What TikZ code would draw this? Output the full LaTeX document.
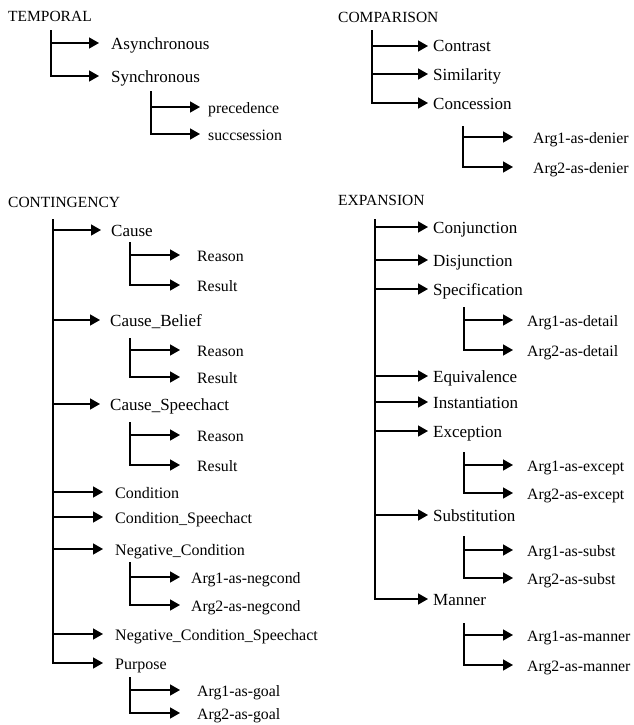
\documentclass[tikz,border=0pt]{standalone}
\usepackage{fontspec}
\setmainfont{Liberation Serif}
\usetikzlibrary{arrows.meta}

\tikzset{
  lbl/.style={anchor=west, inner sep=0pt, text height=13pt, text depth=1pt,
    font=\fontsize{17}{20}\selectfont},
  sublbl/.style={lbl, font=\fontsize{15.8}{19}\selectfont},
  head/.style={lbl, font=\fontsize{15.5}{18}\selectfont},
  trunk/.style={line width=1.4pt, line cap=rect},
  arr/.style={line width=1.4pt, -{Triangle[length=10pt,width=11pt]}},
}

\begin{document}
\begin{tikzpicture}[x=1pt,y=-1pt]
        \useasboundingbox (0,0) rectangle (633,725);

        % TEMPORAL
        \node[head] (temp) at (8,16) {TEMPORAL};
        \coordinate (tT) at (51,31);
        \foreach \nm/\y/\txt in {asyn/43/Asynchronous, sync/76/Synchronous}
        {   \node[lbl] (\nm) at (111,\y) {\txt};
            \draw[arr] (tT |- \nm) -- ([xshift=-12pt]\nm.west);
        }
        \draw[trunk] (tT) -- (tT |- sync);
        \coordinate (sync0) at (151,92);
        \node[sublbl] (sync1) at (208,107) {precedence};
        \node[sublbl] (sync2) at (208,134) {succsession};
        \draw[arr] (sync0 |- sync1) -- ([xshift=-8pt]sync1.west);
        \draw[arr] (sync0 |- sync2) -- ([xshift=-8pt]sync2.west);
        \draw[trunk] (sync0) -- (sync0 |- sync2);

        % COMPARISON
        \node[head] (comp) at (338,17) {COMPARISON};
        \coordinate (tP) at (372,31);
        \foreach \nm/\y/\txt in {contr/46/Contrast, simil/74/Similarity, conc/103/Concession}
        {   \node[lbl] (\nm) at (433,\y) {\txt};
            \draw[arr] (tP |- \nm) -- ([xshift=-5pt]\nm.west);
        }
        \draw[trunk] (tP) -- (tP |- conc);
        \coordinate (conc0) at (463,127);
        \node[sublbl] (conc1) at (533,137) {Arg1-as-denier};
        \node[sublbl] (conc2) at (533,167) {Arg2-as-denier};
        \draw[arr] (conc0 |- conc1) -- ([xshift=-20pt]conc1.west);
        \draw[arr] (conc0 |- conc2) -- ([xshift=-20pt]conc2.west);
        \draw[trunk] (conc0) -- (conc0 |- conc2);

        % CONTINGENCY
        \node[head] (cont) at (8,201) {CONTINGENCY};
        \coordinate (tC) at (53,220);
        \foreach \nm/\y/\x/\txt in {cause/230/111/Cause, belief/320/110/Cause\_Belief,
            speech/404/110/Cause\_Speechact}
        {   \node[lbl] (\nm) at (\x,\y) {\txt};
            \draw[arr] (tC |- \nm) -- ([xshift=-10pt]\nm.west);
        }
        \foreach \nm/\y/\txt in {cond/492/Condition, condsp/517/Condition\_Speechact,
            neg/549/Negative\_Condition, negsp/634/Negative\_Condition\_Speechact,
            purp/663/Purpose}
        {   \node[lbl, font=\fontsize{16}{19}\selectfont] (\nm) at (115,\y) {\txt};
            \draw[arr] (tC |- \nm) -- ([xshift=-12pt]\nm.west);
        }
        \draw[trunk] (tC) -- (tC |- purp);
        \foreach \p/\top/\ya/\yb/\x/\g/\la/\lb in {cause/243/255/285/197/17pt/Reason/Result,
            belief/339/350/377/197/17pt/Reason/Result, speech/423/435/465/197/17pt/Reason/Result,
            neg/563/577/605/191/11pt/Arg1-as-negcond/Arg2-as-negcond,
            purp/678/690/713/197/17pt/Arg1-as-goal/Arg2-as-goal}
        {   \coordinate (\p0) at (130,\top);
            \node[sublbl] (\p1) at (\x,\ya) {\la};
            \node[sublbl] (\p2) at (\x,\yb) {\lb};
            \draw[arr] (\p0 |- \p1) -- ([xshift=-\g]\p1.west);
            \draw[arr] (\p0 |- \p2) -- ([xshift=-\g]\p2.west);
            \draw[trunk] (\p0) -- (\p0 |- \p2);
        }

        % EXPANSION
        \node[head] (expa) at (338,199) {EXPANSION};
        \coordinate (tE) at (375,220);
        \foreach \nm/\y/\txt in {conj/227/Conjunction, disj/260/Disjunction,
            spec/289/Specification, equiv/376/Equivalence, inst/402/Instantiation,
            exc/431/Exception, subst/515/Substitution, mann/599/Manner}
        {   \node[lbl] (\nm) at (433,\y) {\txt};
            \draw[arr] (tE |- \nm) -- ([xshift=-5pt]\nm.west);
        }
        \draw[trunk] (tE) -- (tE |- mann);
        \foreach \p/\top/\ya/\yb/\la/\lb in {spec/308/320/350/Arg1-as-detail/Arg2-as-detail,
            exc/453/465/493/Arg1-as-except/Arg2-as-except,
            subst/537/550/578/Arg1-as-subst/Arg2-as-subst,
            mann/624/635/665/Arg1-as-manner/Arg2-as-manner}
        {   \coordinate (\p0) at (464,\top);
            \node[sublbl] (\p1) at (527,\ya) {\la};
            \node[sublbl] (\p2) at (527,\yb) {\lb};
            \draw[arr] (\p0 |- \p1) -- ([xshift=-14pt]\p1.west);
            \draw[arr] (\p0 |- \p2) -- ([xshift=-14pt]\p2.west);
            \draw[trunk] (\p0) -- (\p0 |- \p2);
        }
      \end{tikzpicture}
\end{document}
